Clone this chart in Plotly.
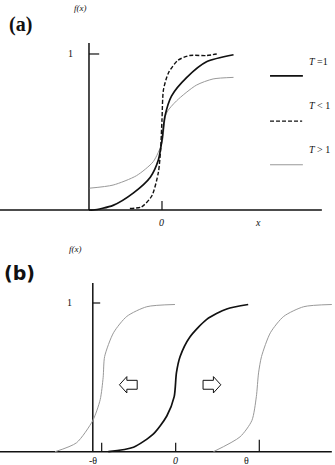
import plotly.graph_objects as go

# ---------------- Panel (a) data ----------------
a_t1_x = [-1.0, -0.94, -0.67, -0.39, -0.16, -0.05, 0.0, 0.04, 0.13, 0.34, 0.61, 0.98]
a_t1_y = [0.0, 0.0, 0.03, 0.11, 0.21, 0.32, 0.45, 0.60, 0.73, 0.85, 0.95, 0.995]

a_tlt_x = [-0.44, -0.28, -0.14, -0.05, -0.02, 0.0, 0.02, 0.09, 0.22, 0.38, 0.61, 0.75]
a_tlt_y = [0.01, 0.02, 0.09, 0.24, 0.38, 0.58, 0.77, 0.88, 0.96, 0.99, 0.99, 1.0]

a_tgt_x = [-0.99, -0.67, -0.35, -0.12, 0.0, 0.06, 0.20, 0.47, 0.70, 0.98]
a_tgt_y = [0.14, 0.16, 0.22, 0.31, 0.43, 0.62, 0.70, 0.80, 0.84, 0.85]

legend_labels = ["T =1", "T < 1", "T > 1"]

# ---------------- Panel (b) data ----------------
b_mid_x = [-0.91, -0.57, -0.30, -0.12, -0.02, 0.01, 0.06, 0.19, 0.42, 0.69, 0.98]
b_mid_y = [0.0, 0.03, 0.12, 0.24, 0.37, 0.53, 0.64, 0.77, 0.89, 0.96, 0.99]

b_left_x = [-1.63, -1.34, -1.12, -1.02, -0.98, -0.96, -0.84, -0.66, -0.39, -0.01]
b_left_y = [0.0, 0.06, 0.21, 0.35, 0.50, 0.64, 0.80, 0.91, 0.975, 0.99]

b_right_x = [0.51, 0.87, 1.03, 1.09, 1.12, 1.16, 1.28, 1.46, 1.73, 2.11]
b_right_y = [0.0, 0.10, 0.21, 0.37, 0.53, 0.64, 0.80, 0.91, 0.975, 0.99]

b_tick_x = [-1.0, 0.0, 1.13]
b_tick_h = [0.06, 0.06, 0.08]
b_tick_labels = ["-θ", "0", "θ"]
b_tick_label_x = [-1.12, 0.0, 0.96]

BLACK = "#111111"
GREY = "#999999"
SERIF = "Liberation Serif"

fig = go.Figure()


def line(x, y, xa, ya, color=BLACK, width=1.5, dash="solid", shape="linear"):
    ln = dict(color=color, width=width, dash=dash, shape=shape)
    if shape == "spline":
        ln["smoothing"] = 0.7
    fig.add_trace(go.Scatter(x=x, y=y, mode="lines", xaxis=xa, yaxis=ya,
                             line=ln, hoverinfo="skip", showlegend=False))


# Panel (a) axes
line([-2.22, 2.19], [0, 0], "x", "y")
line([-1.0, -1.0], [0, 1.07], "x", "y")
line([-1.0, -0.86], [1.0, 1.0], "x", "y", width=1.2)
line([0.0, 0.0], [0, 0.058], "x", "y", width=1.2)

# Panel (a) curves
line(a_tgt_x, a_tgt_y, "x", "y", color=GREY, width=1.0, shape="spline")
line(a_t1_x, a_t1_y, "x", "y", color=BLACK, width=1.7, shape="spline")
line(a_tlt_x, a_tlt_y, "x", "y", color=BLACK, width=1.4, dash="4px,2px", shape="spline")

# Panel (a) key
line([1.48, 1.93], [0.86, 0.86], "x", "y", color=BLACK, width=1.6)
line([1.48, 1.92], [0.57, 0.57], "x", "y", color=BLACK, width=1.4, dash="4px,2px")
line([1.48, 1.93], [0.29, 0.29], "x", "y", color=GREY, width=1.2)

# Panel (b) axes
line([-2.38, 2.11], [0, 0], "x2", "y2")
line([-1.12, -1.12], [0, 1.134], "x2", "y2")
line([-1.12, -1.02], [1.0, 1.0], "x2", "y2", width=1.2)
for tx, th in zip(b_tick_x, b_tick_h):
    line([tx, tx], [0, th], "x2", "y2", width=1.2)

# Panel (b) curves
line(b_left_x, b_left_y, "x2", "y2", color=GREY, width=1.0, shape="spline")
line(b_right_x, b_right_y, "x2", "y2", color=GREY, width=1.0, shape="spline")
line(b_mid_x, b_mid_y, "x2", "y2", color=BLACK, width=1.7, shape="spline")


# Hollow arrows in panel (b)
def arrow(cx, cy, direction, xa, ya):
    L, bh, hh, hl = 0.24, 0.030, 0.055, 0.10
    d = direction
    tail = cx - d * L / 2
    tip = cx + d * L / 2
    neck = tip - d * hl
    xs = [tail, neck, neck, tip, neck, neck, tail, tail]
    ys = [cy - bh, cy - bh, cy - hh, cy, cy + hh, cy + bh, cy + bh, cy - bh]
    fig.add_trace(go.Scatter(x=xs, y=ys, mode="lines", fill="toself", fillcolor="white",
                             xaxis=xa, yaxis=ya, line=dict(color=BLACK, width=1.0),
                             hoverinfo="skip", showlegend=False))


arrow(-0.64, 0.45, -1, "x2", "y2")
arrow(0.49, 0.45, 1, "x2", "y2")

ann = []


def text(t, x, y, xa, ya, size=10, xanchor="center", family=SERIF, italic=False, bold=False):
    ann.append(dict(text=t, x=x, y=y, xref=xa, yref=ya, showarrow=False,
                    xanchor=xanchor, yanchor="middle",
                    font=dict(family=family, size=size, color=BLACK,
                              style="italic" if italic else "normal",
                              weight=700 if bold else 400)))


# Panel (a) text
text("(a)", -1.945, 1.19, "x", "y", size=20, family=SERIF, bold=True)
text("f(x)", -1.12, 1.295, "x", "y", size=9, italic=True)
text("1", -1.26, 1.0, "x", "y", size=10)
text("0", 0.0, -0.077, "x", "y", size=10, italic=True)
text("x", 1.315, -0.077, "x", "y", size=10, italic=True)
for lab, ly in zip(legend_labels, [0.95, 0.67, 0.385]):
    text("<i>T</i>" + lab[1:], 1.99, ly, "x", "y", size=10, xanchor="left")

# Panel (b) text
text("(b)", -2.104, 1.20, "x2", "y2", size=19, family="DejaVu Sans", bold=True)
text("f(x)", -1.36, 1.36, "x2", "y2", size=9, italic=True)
text("1", -1.43, 1.0, "x2", "y2", size=10)
for lab, lx in zip(b_tick_labels, b_tick_label_x):
    text(lab, lx, -0.056, "x2", "y2", size=10, italic=(lab == "0"))

fig.update_layout(
    width=335, height=465,
    margin=dict(l=0, r=0, t=0, b=0),
    paper_bgcolor="white", plot_bgcolor="white",
    showlegend=False,
    annotations=ann,
    xaxis=dict(domain=[0, 1], range=[-2.219, 2.370], visible=False, fixedrange=True),
    yaxis=dict(domain=[0.5054, 1], range=[-0.128, 1.346], visible=False, fixedrange=True),
    xaxis2=dict(domain=[0, 1], range=[-2.374, 2.153], visible=False, fixedrange=True),
    yaxis2=dict(domain=[0, 0.5054], range=[-0.0895, 1.491], visible=False, fixedrange=True),
)

fig.write_html("out.html")
